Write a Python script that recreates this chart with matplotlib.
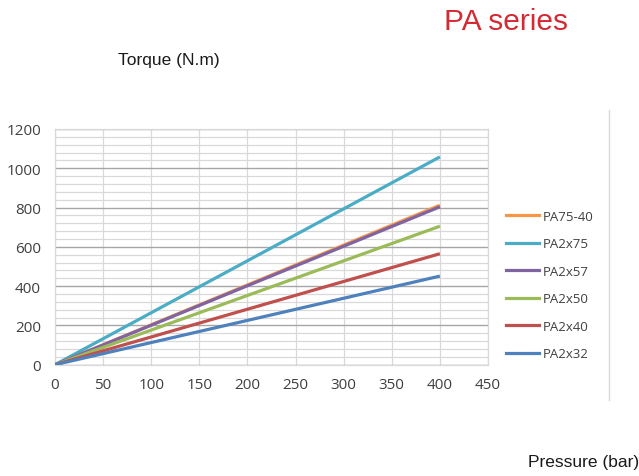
import matplotlib
matplotlib.use("Agg")
import matplotlib.pyplot as plt
from matplotlib.ticker import MultipleLocator
from matplotlib.lines import Line2D

pressure = [0, 400]
series_names = ["PA75-40", "PA2x75", "PA2x57", "PA2x50", "PA2x40", "PA2x32"]
torque_end = {
    "PA75-40": [0, 812],
    "PA2x75": [0, 1058],
    "PA2x57": [0, 804],
    "PA2x50": [0, 705],
    "PA2x40": [0, 565],
    "PA2x32": [0, 451],
}
colors = {
    "PA75-40": "#F79646",
    "PA2x75": "#4BACC6",
    "PA2x57": "#8064A2",
    "PA2x50": "#9BBB59",
    "PA2x40": "#C0504D",
    "PA2x32": "#4F81BD",
}
x_ticks = [0, 50, 100, 150, 200, 250, 300, 350, 400, 450]
y_ticks = [0, 200, 400, 600, 800, 1000, 1200]

W, H = 639, 477
fig = plt.figure(figsize=(W / 100, H / 100), dpi=100)
fig.patch.set_facecolor("white")

left, right, top, bottom = 55, 488, 130, 365.7
ax = fig.add_axes([left / W, 1 - bottom / H, (right - left) / W, (bottom - top) / H])

for name in series_names:
    ax.plot(pressure, torque_end[name], color=colors[name], lw=2.3,
            solid_capstyle="butt", zorder=3)

ax.set_xlim(0, 450)
ax.set_ylim(0, 1200)
ax.set_xticks(x_ticks)
ax.set_yticks(y_ticks)
ax.yaxis.set_minor_locator(MultipleLocator(40))
ax.grid(which="major", axis="y", color="#A6A6A6", lw=1.0, zorder=1)
ax.grid(which="minor", axis="y", color="#D9D9D9", lw=0.9, zorder=1)
ax.grid(which="major", axis="x", color="#D9D9D9", lw=0.9, zorder=1)
for s in ax.spines.values():
    s.set_color("#D9D9D9")
    s.set_linewidth(0.9)
ax.tick_params(which="both", length=0, labelsize=11, colors="#404040")
ax.tick_params(axis="y", pad=10)
ax.tick_params(axis="x", pad=9)
for lbl in ax.get_xticklabels() + ax.get_yticklabels():
    lbl.set_fontfamily("Open Sans")
    lbl.set_color("#404040")

handles = [Line2D([0], [0], color=colors[n], lw=2.3) for n in series_names]
leg = fig.legend(handles, series_names, loc="upper left",
                 bbox_to_anchor=(494 / W, 1 - 199 / H), frameon=False,
                 prop={"family": "Open Sans", "size": 9.5},
                 handlelength=2.5, handletextpad=0.3, labelspacing=1.1)
for t in leg.get_texts():
    t.set_color("#404040")

# vertical separator line
fig.add_artist(Line2D([609.3 / W, 609.3 / W], [1 - 111 / H, 1 - 401 / H],
                      color="#D9D9D9", lw=1.0, transform=fig.transFigure))

fig.text(506 / W, 1 - 22 / H, "PA series", color="#D42A33", fontsize=21.5,
         family="Liberation Sans", ha="center", va="center")
fig.text(169 / W, 1 - 60 / H, "Torque (N.m)", color="#1a1a1a", fontsize=12.5,
         family="Liberation Sans", ha="center", va="center")
fig.text(584 / W, 1 - 463 / H, "Pressure (bar)", color="#1a1a1a", fontsize=12.5,
         family="Liberation Sans", ha="center", va="center")

fig.savefig("out.png", dpi=100, facecolor="white")
